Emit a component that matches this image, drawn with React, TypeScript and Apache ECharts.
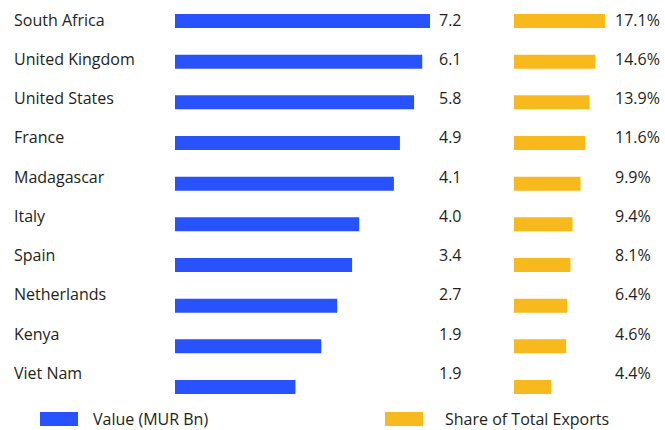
import React, { useEffect, useRef } from "react";
import * as echarts from "echarts";

const countries = [
  "South Africa",
  "United Kingdom",
  "United States",
  "France",
  "Madagascar",
  "Italy",
  "Spain",
  "Netherlands",
  "Kenya",
  "Viet Nam",
];
// Text labels as printed in the chart
const valueLabels = ["7.2", "6.1", "5.8", "4.9", "4.1", "4.0", "3.4", "2.7", "1.9", "1.9"];
const shareLabels = ["17.1%", "14.6%", "13.9%", "11.6%", "9.9%", "9.4%", "8.1%", "6.4%", "4.6%", "4.4%"];
// Bar lengths as drawn in the chart
const valueBars = [7.2, 6.98, 6.75, 6.35, 6.18, 5.2, 5.0, 4.58, 4.13, 3.4];
const shareBars = [17.1, 15.3, 14.2, 13.4, 12.5, 11.0, 10.6, 10.0, 9.8, 7.0];

const FONT = "Open Sans";
const TEXT = "#231f20";
const BLUE = "#2952ff";
const ORANGE = "#f7b91c";

export default function App() {
  const ref = useRef<HTMLDivElement>(null);
  useEffect(() => {
    if (!ref.current) return;
    const chart = echarts.init(ref.current, undefined, { renderer: "svg" });
    const hiddenCat = (gridIndex: number) => ({
      type: "category" as const,
      gridIndex,
      data: countries,
      inverse: true,
      show: false,
    });
    chart.setOption({
      animation: false,
      textStyle: { fontFamily: FONT },
      grid: [
        { left: 175, top: -0.5, width: 260, height: 393, containLabel: false },
        { left: 175, top: 0.67, width: 354.2, height: 406.67 },
        { left: 514, top: 0.67, width: 106.4, height: 406.67 },
      ],
      xAxis: [
        { type: "value", gridIndex: 0, min: 0, max: 1, show: false },
        { type: "value", gridIndex: 1, min: 0, max: 10, show: false },
        { type: "value", gridIndex: 2, min: 0, max: 20, show: false },
      ],
      yAxis: [
        {
          type: "category",
          gridIndex: 0,
          data: countries,
          inverse: true,
          position: "left",
          axisLine: { show: false },
          axisTick: { show: false },
          axisLabel: { align: "left", margin: 161, color: TEXT, fontSize: 16, fontFamily: FONT },
        },
        {
          type: "category",
          gridIndex: 0,
          data: valueLabels,
          inverse: true,
          position: "right",
          axisLine: { show: false },
          axisTick: { show: false },
          axisLabel: { align: "left", margin: 4, color: TEXT, fontSize: 16, fontFamily: FONT },
        },
        {
          type: "category",
          gridIndex: 0,
          data: shareLabels,
          inverse: true,
          position: "right",
          offset: 176,
          axisLine: { show: false },
          axisTick: { show: false },
          axisLabel: { align: "left", margin: 4, color: TEXT, fontSize: 16, fontFamily: FONT },
        },
        hiddenCat(1),
        hiddenCat(2),
      ],
      legend: [
        {
          left: 40,
          top: 411,
          padding: 0,
          itemWidth: 38,
          itemHeight: 14,
          icon: "rect",
          data: ["Value (MUR Bn)"],
          textStyle: { color: TEXT, fontSize: 16, fontFamily: FONT, padding: [0, 0, 0, 10] },
        },
        {
          left: 385,
          top: 411,
          padding: 0,
          itemWidth: 38,
          itemHeight: 14,
          icon: "rect",
          data: ["Share of Total Exports"],
          textStyle: { color: TEXT, fontSize: 16, fontFamily: FONT, padding: [0, 0, 0, 17] },
        },
      ],
      series: [
        {
          name: "Value (MUR Bn)",
          type: "bar",
          xAxisIndex: 1,
          yAxisIndex: 3,
          data: valueBars,
          barWidth: 14,
          itemStyle: { color: BLUE },
        },
        {
          name: "Share of Total Exports",
          type: "bar",
          xAxisIndex: 2,
          yAxisIndex: 4,
          data: shareBars,
          barWidth: 14,
          itemStyle: { color: ORANGE },
        },
      ],
    });
    return () => chart.dispose();
  }, []);
  return <div ref={ref} style={{ width: 665, height: 430, position: "absolute", left: 0, top: 0 }} />;
}
